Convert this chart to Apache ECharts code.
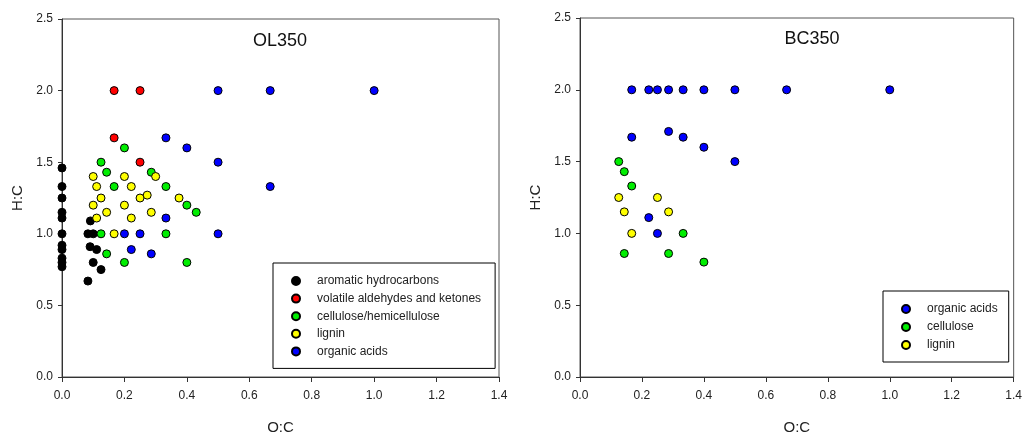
<!DOCTYPE html>
<html>
<head>
<meta charset="utf-8">
<script src="https://cdn.jsdelivr.net/npm/echarts@6/dist/echarts.min.js"></script>
<style>
	html, body { margin: 0; padding: 0; background: #fff; }
	#chart { width: 1025px; height: 440px; }
</style>
</head>
<body>
<div id="chart"></div>
<script>
// O:C , H:C pairs
var ol_aromatic = [[0,1.46],[0,1.33],[0,1.25],[0,1.15],[0,1.11],[0,1.0],[0,0.92],[0,0.89],[0,0.83],[0,0.8],[0,0.77],
	[0.083,1.0],[0.1,1.0],[0.091,1.09],[0.09,0.91],[0.111,0.89],[0.1,0.8],[0.125,0.75],[0.083,0.67]];
var ol_volatile = [[0.167,2.0],[0.25,2.0],[0.167,1.67],[0.25,1.5]];
var ol_cellulose = [[0.125,1.5],[0.143,1.43],[0.167,1.33],[0.2,1.6],[0.286,1.43],[0.333,1.33],[0.4,1.2],[0.43,1.15],
	[0.125,1.0],[0.333,1.0],[0.143,0.86],[0.2,0.8],[0.4,0.8]];
var ol_lignin = [[0.1,1.4],[0.111,1.33],[0.125,1.25],[0.1,1.2],[0.143,1.15],[0.111,1.11],[0.2,1.4],[0.222,1.33],
	[0.2,1.2],[0.222,1.11],[0.167,1.0],[0.25,1.25],[0.273,1.27],[0.286,1.15],[0.3,1.4],[0.375,1.25]];
var ol_acids = [[0.5,2.0],[0.667,2.0],[1.0,2.0],[0.333,1.67],[0.4,1.6],[0.5,1.5],[0.667,1.33],[0.333,1.11],
	[0.2,1.0],[0.25,1.0],[0.5,1.0],[0.222,0.89],[0.286,0.86]];

var bc_acids = [[0.167,2.0],[0.222,2.0],[0.25,2.0],[0.286,2.0],[0.333,2.0],[0.4,2.0],[0.5,2.0],[0.667,2.0],[1.0,2.0],
	[0.286,1.71],[0.167,1.67],[0.333,1.67],[0.4,1.6],[0.5,1.5],[0.222,1.11],[0.25,1.0]];
var bc_cellulose = [[0.125,1.5],[0.143,1.43],[0.167,1.33],[0.333,1.0],[0.143,0.86],[0.286,0.86],[0.4,0.8]];
var bc_lignin = [[0.125,1.25],[0.25,1.25],[0.143,1.15],[0.286,1.15],[0.167,1.0]];

var font = 'Liberation Sans, Arial, sans-serif';
var text_color = '#222';
var axis_color = '#333';

function xAxisFor(i) {
	return {
		gridIndex: i, type: 'value', min: 0, max: 1.4, interval: 0.2,
		name: 'O:C', nameLocation: 'middle', nameGap: 43,
		nameTextStyle: { fontFamily: font, fontSize: 15, color: text_color },
		axisLine: { onZero: false, lineStyle: { color: axis_color, width: 1 } },
		axisTick: { inside: false, length: 5, lineStyle: { color: axis_color } },
		axisLabel: { margin: 13, fontFamily: font, fontSize: 12, color: text_color,
			formatter: function (v) { return v.toFixed(1); } },
		splitLine: { show: false }
	};
}
function yAxisFor(i) {
	return {
		gridIndex: i, type: 'value', min: 0, max: 2.5, interval: 0.5,
		name: 'H:C', nameLocation: 'middle', nameGap: 37,
		nameTextStyle: { fontFamily: font, fontSize: 15, color: text_color },
		axisLine: { onZero: false, lineStyle: { color: axis_color, width: 1 } },
		axisTick: { inside: false, length: 4, lineStyle: { color: axis_color } },
		axisLabel: { margin: 9, fontFamily: font, fontSize: 12, color: text_color,
			formatter: function (v) { return v.toFixed(1); } },
		splitLine: { show: false }
	};
}
function scatter(name, data, color, i) {
	return {
		name: name, type: 'scatter', xAxisIndex: i, yAxisIndex: i,
		data: data, symbol: 'circle', symbolSize: 8,
		itemStyle: { color: color, borderColor: '#000', borderWidth: 1, opacity: 1 }
	};
}

var chart = echarts.init(document.getElementById('chart'));
var options = {
	animation: false,
	title: [
		{ text: 'OL350', left: 275, top: 27, textAlign: 'center',
			textStyle: { fontFamily: font, fontSize: 18, fontWeight: 'normal', color: '#111' } },
		{ text: 'BC350', left: 807, top: 25, textAlign: 'center',
			textStyle: { fontFamily: font, fontSize: 18, fontWeight: 'normal', color: '#111' } }
	],
	grid: [
		{ left: 62, top: 19, width: 437, height: 362, show: true, borderColor: '#555', borderWidth: 1, backgroundColor: 'transparent' },
		{ left: 580, top: 18, width: 437, height: 362, show: true, borderColor: '#555', borderWidth: 1, backgroundColor: 'transparent' }
	],
	xAxis: [xAxisFor(0), xAxisFor(1)],
	yAxis: [yAxisFor(0), yAxisFor(1)],
	legend: [
		{
			data: ['aromatic hydrocarbons', 'volatile aldehydes and ketones', 'cellulose/hemicellulose', 'lignin', 'organic acids'],
			orient: 'vertical', left: 273, top: 263,
			padding: [11, 14, 10, 18],
			itemWidth: 8, itemHeight: 8, itemGap: 3.6,
			borderColor: '#000', borderWidth: 1,
			selectedMode: false,
			textStyle: { fontFamily: font, fontSize: 12, color: text_color, lineHeight: 14, padding: [0, 0, 0, 12] }
		},
		{
			data: ['organic acids', 'cellulose', 'lignin'],
			orient: 'vertical', left: 883, top: 291,
			padding: [11, 11, 10, 18],
			itemWidth: 8, itemHeight: 8, itemGap: 4,
			borderColor: '#000', borderWidth: 1,
			selectedMode: false,
			textStyle: { fontFamily: font, fontSize: 12, color: text_color, lineHeight: 14, padding: [0, 0, 0, 12] }
		}
	],
	series: [
		scatter('aromatic hydrocarbons', ol_aromatic, '#000000', 0),
		scatter('volatile aldehydes and ketones', ol_volatile, '#ff0000', 0),
		scatter('cellulose/hemicellulose', ol_cellulose, '#00ee00', 0),
		scatter('lignin', ol_lignin, '#ffff00', 0),
		scatter('organic acids', ol_acids, '#0000ff', 0),
		scatter('organic acids', bc_acids, '#0000ff', 1),
		scatter('cellulose', bc_cellulose, '#00ee00', 1),
		scatter('lignin', bc_lignin, '#ffff00', 1)
	]
};
chart.setOption(options, true);
</script>
</body>
</html>
